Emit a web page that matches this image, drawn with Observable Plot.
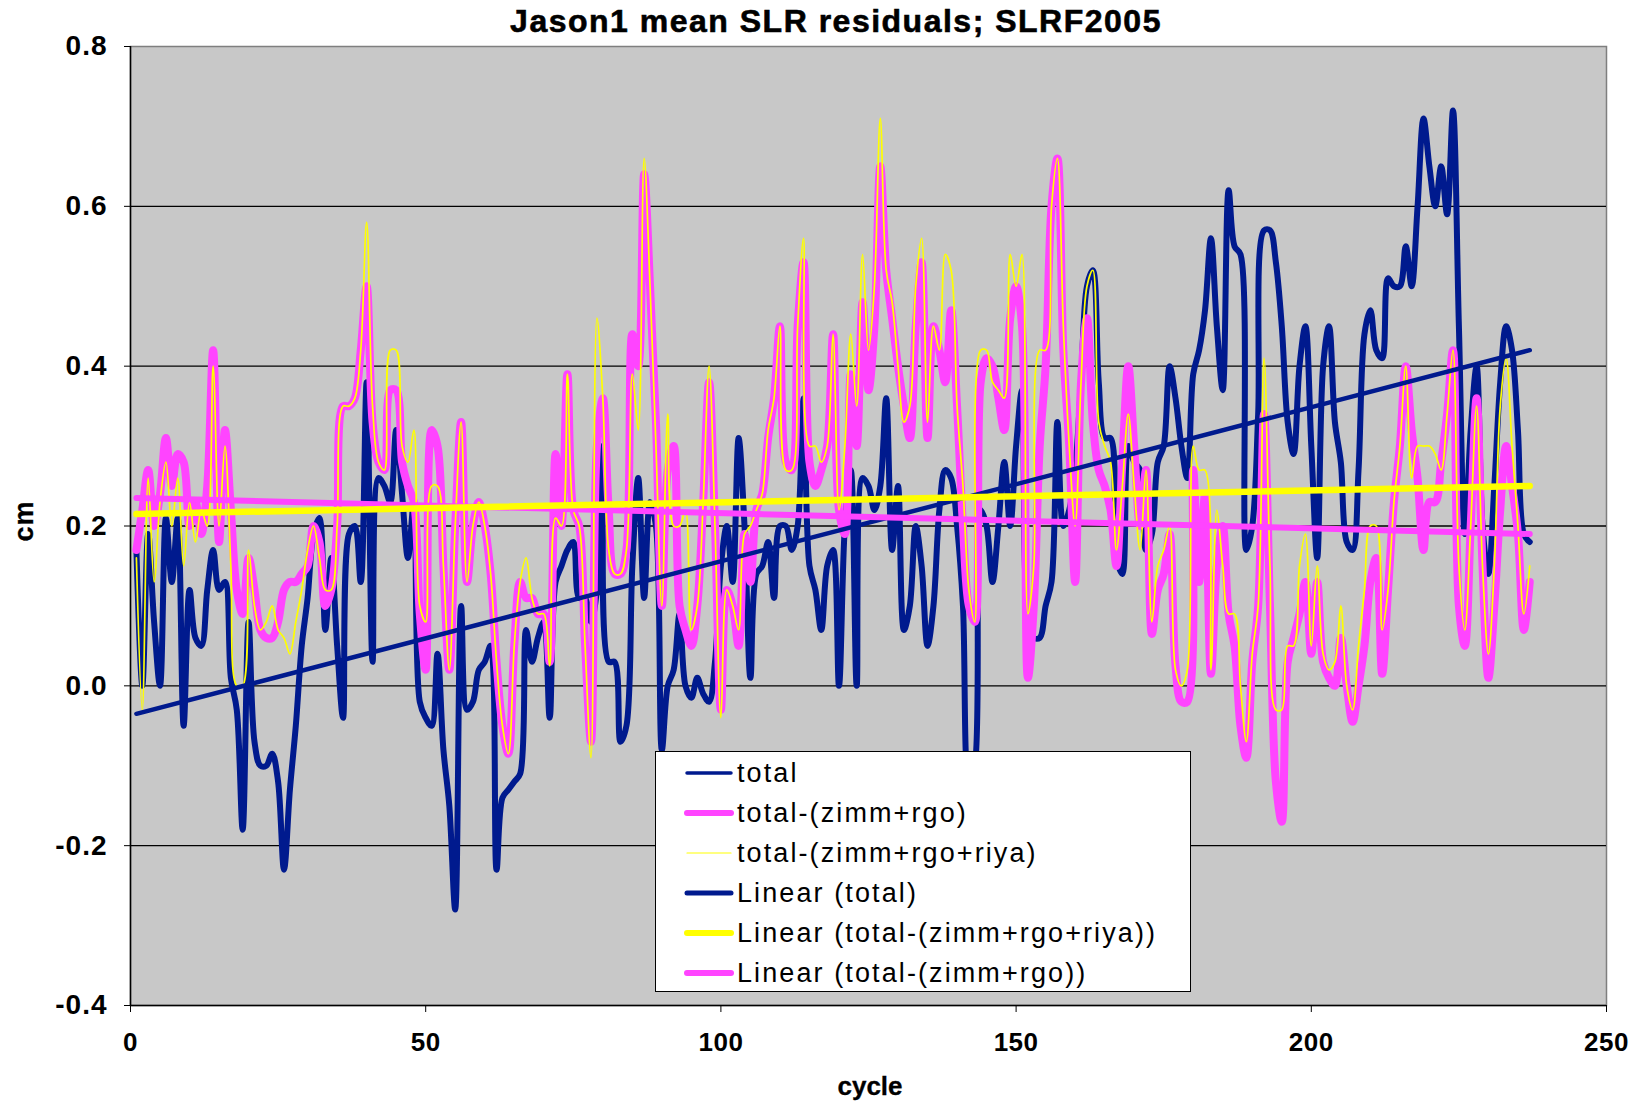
<!DOCTYPE html>
<html>
<head>
<meta charset="utf-8">
<script src="https://cdn.jsdelivr.net/npm/d3@7"></script>
<script src="https://cdn.jsdelivr.net/npm/@observablehq/plot@0.6"></script>
<style>
  body { margin: 0; background: #fff; font-family: "Liberation Sans", Arial, sans-serif; }
  #wrap { position: relative; width: 1635px; height: 1101px; overflow: hidden; }
  #chart { position: absolute; left: 0; top: 0; }
  #title { position: absolute; left: 836px; top: 3px; transform: translateX(-50%); white-space: nowrap;
           font-size: 32px; font-weight: bold; letter-spacing: 1.5px; -webkit-text-stroke: 0.6px #000; color: #000; }
  #ylabel { position: absolute; left: 24px; top: 521px; transform: translate(-50%, -50%) rotate(-90deg);
            font-size: 27px; font-weight: bold; letter-spacing: 1px; -webkit-text-stroke: 0.3px #000; }
  #xlabel { position: absolute; left: 870px; top: 1086px; transform: translate(-50%, -50%);
            font-size: 26px; font-weight: bold; -webkit-text-stroke: 0.3px #000; }
  #legend { position: absolute; left: 655px; top: 751px; width: 536px; height: 241px; background: #fff;
            border: 1.5px solid #000; box-sizing: border-box; }
  .lrow { position: absolute; left: 0; height: 36px; display: flex; align-items: center; font-size: 27px;
          letter-spacing: 2.1px; white-space: nowrap; }
  .lrow svg { margin-left: 28px; margin-right: 3px; }
  .yax text { font-size: 28px; letter-spacing: 1px; }
  .xax text { font-size: 26px; letter-spacing: 0.5px; }
</style>
</head>
<body>
<div id="wrap">
  <div id="chart"></div>
  <div id="title">Jason1 mean SLR residuals; SLRF2005</div>
  <div id="ylabel">cm</div>
  <div id="xlabel">cycle</div>
  <div id="legend"></div>
</div>
<script>
// ---- data (cm) per cycle 1..237 ----
const cycles = Array.from({length: 237}, (_, i) => i + 1);

const total = [
  0.17, 0.0, 0.19, 0.08, 0.0, 0.21, 0.13, 0.21, -0.05, 0.12,
  0.06, 0.05, 0.12, 0.17, 0.12, 0.13, 0.01, -0.03, -0.18, 0.08,
  -0.07, -0.1, -0.1, -0.085, -0.12, -0.23, -0.13, -0.05, 0.05, 0.11,
  0.19, 0.21, 0.07, 0.16, 0.05, -0.04, 0.19, 0.2, 0.13, 0.38,
  0.03, 0.26, 0.25, 0.23, 0.32, 0.24, 0.16, 0.23, -0.02, -0.04,
  -0.05, 0.04, -0.08, -0.15, -0.28, 0.1, -0.03, -0.02, 0.02, 0.03,
  0.05, -0.23, -0.14, -0.13, -0.12, -0.11, 0.07, 0.03, 0.06, 0.08,
  -0.04, 0.13, 0.15, 0.17, 0.18, 0.11, 0.11, 0.08, 0.12, 0.3,
  0.03, 0.03, -0.07, -0.05, 0.15, 0.26, 0.11, 0.23, 0.2, -0.08,
  0.0, 0.02, 0.09, 0.0, -0.015, 0.01, -0.01, -0.02, 0.03, 0.15,
  0.2, 0.13, 0.31, 0.2, 0.01, 0.14, 0.15, 0.18, 0.11, 0.2,
  0.2, 0.17, 0.2, 0.36, 0.15, 0.12, 0.07, 0.15, 0.17, 0.0,
  0.2, 0.27, 0.0, 0.26, 0.25, 0.22, 0.25, 0.36, 0.17, 0.25,
  0.07, 0.1, 0.2, 0.15, 0.05, 0.1, 0.22, 0.27, 0.26, 0.2,
  0.1, -0.12, -0.1, 0.22, 0.2, 0.13, 0.2, 0.28, 0.2, 0.3,
  0.37, 0.08, 0.06, 0.06, 0.1, 0.13, 0.33, 0.2, 0.22, 0.27,
  0.38, 0.5, 0.52, 0.38, 0.31, 0.31, 0.16, 0.14, 0.3, 0.28,
  0.27, 0.17, 0.19, 0.28, 0.3, 0.4, 0.36, 0.3, 0.26, 0.39,
  0.42, 0.47, 0.56, 0.45, 0.37, 0.62, 0.55, 0.54, 0.17, 0.2,
  0.34, 0.57, 0.57, 0.53, 0.45, 0.33, 0.29, 0.4, 0.45, 0.3,
  0.16, 0.4, 0.45, 0.33, 0.28, 0.18, 0.17, 0.27, 0.44, 0.47,
  0.42, 0.41, 0.51, 0.5, 0.5, 0.55, 0.5, 0.6, 0.71, 0.65,
  0.6, 0.65, 0.59, 0.72, 0.45, 0.19, 0.32, 0.4, 0.2, 0.14,
  0.25, 0.38, 0.45, 0.42, 0.32, 0.19, 0.18
];

const totalMinusZimmRgo = [
  0.17, 0.22, 0.27, 0.2, 0.24, 0.31, 0.25, 0.29, 0.28, 0.2,
  0.23, 0.19, 0.25, 0.42, 0.18, 0.32, 0.22, 0.12, 0.09, 0.16,
  0.12, 0.07, 0.06, 0.06, 0.08, 0.12, 0.13, 0.13, 0.14, 0.15,
  0.2, 0.18, 0.1, 0.12, 0.2, 0.35, 0.35, 0.36, 0.42, 0.5,
  0.33, 0.28, 0.27, 0.37, 0.37, 0.28, 0.25, 0.23, 0.09, 0.02,
  0.32, 0.3, 0.15, 0.02, 0.2, 0.33, 0.13, 0.2, 0.23, 0.2,
  0.14, 0.03, -0.05, -0.085, 0.05, 0.13, 0.11, 0.11, 0.09, 0.09,
  0.03, 0.29, 0.2, 0.39, 0.22, 0.2, 0.05, -0.07, 0.3, 0.36,
  0.22, 0.14, 0.14, 0.17, 0.44, 0.4, 0.64, 0.5, 0.33, 0.1,
  0.27, 0.3, 0.1, 0.07, 0.05, 0.1, 0.23, 0.38, 0.2, -0.03,
  0.12, 0.1, 0.05, 0.19, 0.13, 0.22, 0.24, 0.31, 0.36, 0.45,
  0.28, 0.27, 0.45, 0.53, 0.28, 0.25, 0.27, 0.3, 0.44, 0.22,
  0.19, 0.39, 0.3, 0.48, 0.37, 0.45, 0.65, 0.52, 0.46, 0.4,
  0.35, 0.31, 0.45, 0.53, 0.31, 0.45, 0.42, 0.38, 0.47, 0.35,
  0.2, 0.1, 0.08, 0.38, 0.41, 0.4, 0.36, 0.32, 0.46, 0.5,
  0.45, 0.01, 0.1, 0.3, 0.4, 0.6, 0.66, 0.42, 0.3, 0.13,
  0.38, 0.46, 0.33, 0.27, 0.25, 0.22, 0.15, 0.28, 0.4, 0.3,
  0.2, 0.27, 0.065, 0.12, 0.14, 0.19, 0.025, -0.02, -0.02, 0.27,
  0.13, 0.24, 0.015, 0.15, 0.2, 0.09, 0.05, -0.05, -0.09, 0.03,
  0.1, 0.34, 0.1, -0.12, -0.17, 0.03, 0.06, 0.09, 0.13, 0.04,
  0.13, 0.03, 0.01, 0.0, 0.06, 0.0, -0.045, 0.0, 0.05, 0.13,
  0.16, 0.015, 0.12, 0.23, 0.3, 0.4, 0.32, 0.26, 0.17, 0.23,
  0.23, 0.28, 0.34, 0.42, 0.1, 0.05, 0.2, 0.36, 0.15, 0.01,
  0.1, 0.22, 0.3, 0.25, 0.19, 0.07, 0.13
];

const totalMinusZimmRgoRiya = [
  0.16, -0.03, 0.26, 0.13, 0.23, 0.28, 0.2, 0.26, 0.15, 0.23,
  0.18, 0.22, 0.2, 0.4, 0.2, 0.3, 0.15, 0.0, 0.0, 0.17,
  0.1, 0.07, 0.08, 0.1, 0.07, 0.06, 0.04, 0.08, 0.12, 0.17,
  0.2, 0.16, 0.12, 0.12, 0.2, 0.35, 0.35, 0.36, 0.42, 0.58,
  0.35, 0.28, 0.27, 0.42, 0.42, 0.3, 0.28, 0.32, 0.1, 0.08,
  0.25, 0.25, 0.15, 0.02, 0.2, 0.33, 0.13, 0.2, 0.23, 0.2,
  0.14, 0.03, -0.05, -0.085, 0.05, 0.13, 0.16, 0.11, 0.09, 0.09,
  0.025, 0.21, 0.2, 0.39, 0.22, 0.2, 0.05, -0.09, 0.46, 0.36,
  0.17, 0.14, 0.14, 0.17, 0.39, 0.32, 0.66, 0.5, 0.3, 0.1,
  0.34, 0.2, 0.2, 0.22, 0.07, 0.1, 0.23, 0.4, 0.2, -0.04,
  0.12, 0.1, 0.07, 0.19, 0.2, 0.22, 0.24, 0.32, 0.36, 0.45,
  0.27, 0.27, 0.45, 0.56, 0.3, 0.3, 0.28, 0.3, 0.44, 0.22,
  0.3, 0.44, 0.35, 0.54, 0.42, 0.5, 0.71, 0.52, 0.48, 0.4,
  0.33, 0.35, 0.5, 0.56, 0.33, 0.45, 0.42, 0.54, 0.52, 0.35,
  0.25, 0.12, 0.08, 0.42, 0.42, 0.38, 0.37, 0.36, 0.54, 0.5,
  0.54, 0.09, 0.15, 0.42, 0.42, 0.6, 0.66, 0.45, 0.3, 0.2,
  0.38, 0.5, 0.52, 0.33, 0.3, 0.28, 0.17, 0.25, 0.34, 0.25,
  0.17, 0.27, 0.08, 0.15, 0.17, 0.2, 0.02, 0.0, 0.02, 0.3,
  0.27, 0.27, 0.02, 0.22, 0.15, 0.09, 0.09, 0.0, -0.07, 0.04,
  0.1, 0.41, 0.15, -0.03, -0.03, 0.05, 0.05, 0.15, 0.19, 0.05,
  0.15, 0.04, 0.02, 0.03, 0.1, 0.0, -0.03, 0.05, 0.12, 0.2,
  0.2, 0.07, 0.12, 0.23, 0.3, 0.4, 0.26, 0.3, 0.3, 0.3,
  0.29, 0.27, 0.34, 0.42, 0.15, 0.07, 0.2, 0.35, 0.15, 0.04,
  0.15, 0.35, 0.41, 0.3, 0.2, 0.09, 0.15
];

// linear trend endpoints (cycle 1 and cycle 237)
const trendCycles = [1, 237];
const trendTotal = [-0.035, 0.42];
const trendRiya = [0.215, 0.25];
const trendRgo = [0.235, 0.19];

const xTicks = [0, 50, 100, 150, 200, 250];
const yTicks = [-0.4, -0.2, 0, 0.2, 0.4, 0.6, 0.8];

const legendLabels = ["total", "total-(zimm+rgo)", "total-(zimm+rgo+riya)", "Linear (total)",
                      "Linear (total-(zimm+rgo+riya))", "Linear (total-(zimm+rgo))"];

// ---- styles ----
const NAVY = "#001a8e", PINK = "#ff44ff", YELLOW = "#ffff00";
const legendColors = [NAVY, PINK, YELLOW, NAVY, YELLOW, PINK];
const legendWidths = [3.5, 6, 1.2, 5, 6, 6];

const rows = cycles.map((c, i) => ({cycle: c, total: total[i], rgo: totalMinusZimmRgo[i], riya: totalMinusZimmRgoRiya[i]}));
const trendRows = trendCycles.map((c, i) => ({cycle: c, total: trendTotal[i], riya: trendRiya[i], rgo: trendRgo[i]}));

const chart = Plot.plot({
  width: 1635,
  height: 1101,
  marginLeft: 130,
  marginRight: 29,
  marginTop: 46,
  marginBottom: 96,
  x: {domain: [0, 250]},
  y: {domain: [-0.4, 0.8]},
  style: {background: "transparent", fontFamily: "'Liberation Sans', Arial, sans-serif", fontSize: "26px",
          fontWeight: "bold", color: "#000", overflow: "visible"},
  marks: [
    Plot.frame({fill: "#c8c8c8", stroke: "#7f7f7f", strokeWidth: 1.5}),
    Plot.ruleY(yTicks.filter(v => v > -0.4 && v < 0.8), {stroke: "#000", strokeWidth: 1.3}),
    Plot.line(rows, {x: "cycle", y: "total", stroke: NAVY, strokeWidth: 6, curve: "catmull-rom", strokeLinejoin: "round"}),
    Plot.line(rows, {x: "cycle", y: "rgo", stroke: PINK, strokeWidth: 8, curve: "catmull-rom", strokeLinejoin: "round"}),
    Plot.line(rows, {x: "cycle", y: "riya", stroke: YELLOW, strokeWidth: 1.7, curve: "catmull-rom"}),
    Plot.line(trendRows, {x: "cycle", y: "total", stroke: NAVY, strokeWidth: 4.5}),
    Plot.line(trendRows, {x: "cycle", y: "rgo", stroke: PINK, strokeWidth: 6}),
    Plot.line(trendRows, {x: "cycle", y: "riya", stroke: YELLOW, strokeWidth: 6.5}),
    Plot.ruleX([0], {stroke: "#000", strokeWidth: 1.5}),
    Plot.ruleY([-0.4], {stroke: "#000", strokeWidth: 1.5}),
    Plot.axisX({ticks: xTicks, tickSize: 7, tickPadding: 20, label: null, tickFormat: d => String(d), className: "xax"}),
    Plot.axisY({ticks: yTicks, tickSize: 6, tickPadding: 17, label: null, tickFormat: d => d.toFixed(1), className: "yax"})
  ]
});
document.getElementById("chart").appendChild(chart);

// ---- legend ----
const legend = document.getElementById("legend");
legendLabels.forEach((label, i) => {
  const row = document.createElement("div");
  row.className = "lrow";
  row.style.top = (3 + i * 40) + "px";
  const w = legendWidths[i];
  row.innerHTML = `<svg width="50" height="12"><line x1="3" y1="6" x2="47" y2="6" stroke="${legendColors[i]}" stroke-width="${w}" stroke-linecap="round"/></svg><span>${label}</span>`;
  legend.appendChild(row);
});
</script>
</body>
</html>
